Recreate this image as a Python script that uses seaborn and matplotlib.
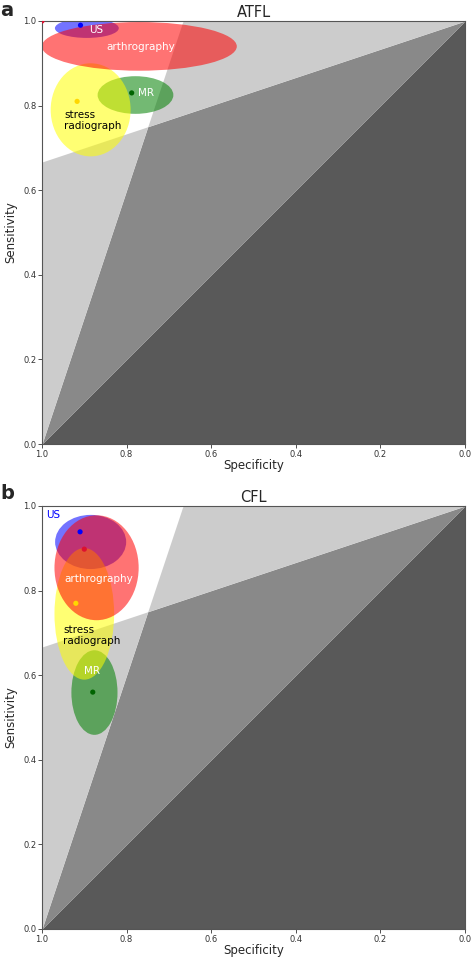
import numpy as np
import pandas as pd
import matplotlib
matplotlib.use("Agg")
import matplotlib.pyplot as plt
from matplotlib.patches import Ellipse
import seaborn as sns

# ========================
# DATA
# ========================
modalities = ["MR", "US", "stress radiograph", "arthrography"]

# ATFL: point estimates (specificity, sensitivity)
atfl_spec = [0.788, 0.909, 0.917, 1.000]
atfl_sens = [0.830, 0.990, 0.810, 1.000]
# ATFL: confidence ellipses (centre + full width / height)
atfl_ell_spec = [0.779, 0.894, 0.885, 0.770]
atfl_ell_sens = [0.825, 0.983, 0.790, 0.940]
atfl_ell_w = [0.179, 0.151, 0.189, 0.461]
atfl_ell_h = [0.089, 0.046, 0.220, 0.115]

# CFL: point estimates
cfl_spec = [0.880, 0.910, 0.920, 0.900]
cfl_sens = [0.560, 0.939, 0.770, 0.898]
# CFL: confidence ellipses
cfl_ell_spec = [0.876, 0.885, 0.900, 0.871]
cfl_ell_sens = [0.559, 0.915, 0.745, 0.854]
cfl_ell_w = [0.109, 0.168, 0.141, 0.199]
cfl_ell_h = [0.200, 0.128, 0.311, 0.248]

# likelihood ratio thresholds for the shaded zones
lr_pos = 3.0
lr_neg = 1.0 / 3.0

ticks = [0.0, 0.2, 0.4, 0.6, 0.8, 1.0]

ell_colors = {"MR": "green", "US": "blue", "stress radiograph": "yellow", "arthrography": "red"}
dot_colors = {"MR": "#006400", "US": "blue", "stress radiograph": "gold", "arthrography": "#dd1030"}

# label placement: (text, spec, sens, colour, ha)
atfl_labels = [
    ("US", 0.889, 0.979, "white", "left"),
    ("arthrography", 0.766, 0.938, "white", "center"),
    ("MR", 0.773, 0.830, "white", "left"),
    ("stress\nradiograph", 0.948, 0.764, "black", "left"),
]
cfl_labels = [
    ("US", 0.990, 0.979, "blue", "left"),
    ("arthrography", 0.866, 0.827, "white", "center"),
    ("stress\nradiograph", 0.950, 0.694, "black", "left"),
    ("MR", 0.882, 0.610, "white", "center"),
]

sns.set_style("ticks")
plt.rcParams['font.family'] = ['DejaVu Sans']


def draw_zones(ax):
    """Background zones: below chance, and the two LR lines"""
    x = np.linspace(0, 1, 401)
    diag = 1 - x
    line_pos = np.minimum(lr_pos * (1 - x), 1)
    line_neg = 1 - lr_neg * x
    low = np.minimum(line_pos, line_neg)
    high = np.minimum(np.maximum(line_pos, line_neg), 1)
    ax.fill_between(x, 0, diag, color="#595959", lw=0, zorder=0)
    ax.fill_between(x, diag, low, color="#898989", lw=0, zorder=0)
    ax.fill_between(x, low, high, color="#cccccc", lw=0, zorder=0)


def draw_panel(ax, title, spec, sens, e_spec, e_sens, e_w, e_h, labels):
    draw_zones(ax)
    for m, cx, cy, w, h in zip(modalities, e_spec, e_sens, e_w, e_h):
        ax.add_patch(Ellipse((cx, cy), w, h, facecolor=ell_colors[m],
                             edgecolor="none", alpha=0.55, zorder=2))
    df = pd.DataFrame({"modality": modalities, "spec": spec, "sens": sens})
    sns.scatterplot(data=df, x="spec", y="sens", hue="modality",
                    palette=dot_colors, s=14, linewidth=0, legend=False,
                    ax=ax, zorder=4)
    for txt, lx, ly, c, ha in labels:
        ax.text(lx, ly, txt, color=c, ha=ha, va="center", fontsize=7.5,
                linespacing=1.1, zorder=5)
    ax.set_xlim(1, 0)
    ax.set_ylim(0, 1)
    ax.set_xticks(ticks)
    ax.set_yticks(ticks)
    ax.set_xticklabels([f"{t:.1f}" for t in ticks])
    ax.set_yticklabels([f"{t:.1f}" for t in ticks])
    ax.tick_params(labelsize=6, length=3, width=0.6, pad=1, colors="#333333")
    ax.set_xlabel("Specificity", fontsize=8.5, labelpad=0)
    ax.set_ylabel("Sensitivity", fontsize=8.5, labelpad=4)
    ax.set_title(title, fontsize=10.5, pad=3)
    for sp in ax.spines.values():
        sp.set_color("#555555")
        sp.set_linewidth(0.8)


fig = plt.figure(figsize=(4.72, 9.59), dpi=100)
ax_a = fig.add_axes([42 / 472, 515 / 959, 423 / 472, 423 / 959])
ax_b = fig.add_axes([42 / 472, 30 / 959, 423 / 472, 423 / 959])

draw_panel(ax_a, "ATFL", atfl_spec, atfl_sens, atfl_ell_spec, atfl_ell_sens,
           atfl_ell_w, atfl_ell_h, atfl_labels)
draw_panel(ax_b, "CFL", cfl_spec, cfl_sens, cfl_ell_spec, cfl_ell_sens,
           cfl_ell_w, cfl_ell_h, cfl_labels)

fig.text(0.0, 1 - 1 / 959, "a", fontsize=14, fontweight="bold", va="top")
fig.text(0.0, 1 - 484 / 959, "b", fontsize=14, fontweight="bold", va="top")

fig.savefig("out.png", dpi=100)
